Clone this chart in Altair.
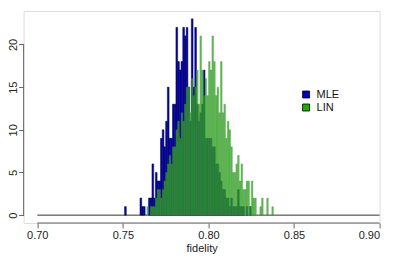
import altair as alt
import pandas as pd
import numpy as np

# Histogram bins: width 0.001, first bin starts at 0.751
bin_width = 0.001
first_bin = 0.751

mle_counts = [1, 0, 0, 0, 0, 0, 0, 0, 0,
              2, 1, 1, 0, 0, 2, 2, 6, 2, 5, 4, 4, 9, 10, 8, 11, 15, 9, 9, 13, 13,
              22, 18, 17, 18, 22, 21, 22, 15, 11, 23, 15, 22, 13, 11, 12, 13, 17, 9, 9, 9,
              9, 8, 8, 6, 6, 5, 4, 3, 3, 2, 2, 1, 2, 1, 1, 1, 3, 1, 1, 1, 0, 1, 0, 1,
              0, 0, 0, 0, 0, 0, 0, 0, 0, 0, 0, 0, 0, 0, 0]

lin_counts = [0, 0, 0, 0, 0, 0, 0, 0, 0, 0, 0, 0, 0,
              1, 0, 1, 1, 1, 2, 3, 3, 2, 3, 4, 5, 6, 7, 6, 8, 8,
              10, 11, 9, 12, 11, 13, 15, 15, 12, 16, 14, 15, 17, 13, 21, 17, 14, 16, 14,
              18, 17, 21, 18, 14, 15, 12, 18, 12, 13, 9, 11, 10, 8, 5, 5, 6, 7, 4, 6,
              3, 3, 4, 4, 1, 4, 2, 2, 0, 0, 1, 2, 0, 0, 2, 0, 0, 1, 0, 0]

series_names = ["MLE", "LIN"]
series_colors = ["#0000c8", "#14b400"]
x_ticks = [0.70, 0.75, 0.80, 0.85, 0.90]
y_ticks = [0, 5, 10, 15, 20]
ref_value = 0.80

rows = []
for name, counts in zip(series_names, [mle_counts, lin_counts]):
    for i, c in enumerate(counts):
        if c > 0:
            s = round(first_bin + i * bin_width, 3)
            rows.append({"start": s, "end": round(s + bin_width, 3), "count": c, "series": name})
df = pd.DataFrame(rows)

W, H = 356, 212
xscale = alt.Scale(domain=[0.692, 0.90], nice=False, zero=False)
yscale = alt.Scale(domain=[-0.92, 23.92], nice=False, zero=False)
color = alt.Color("series:N",
                  scale=alt.Scale(domain=series_names, range=series_colors),
                  legend=alt.Legend(title=None, orient="none", legendX=277, legendY=78,
                                    symbolType="square", symbolSize=49,
                                    symbolStrokeColor="black", symbolStrokeWidth=0.8,
                                    symbolOpacity=1, labelFontSize=11, labelColor="#111",
                                    labelFont="Liberation Sans", labelOffset=5,
                                    rowPadding=1, padding=0))

xaxis = alt.Axis(values=x_ticks, format=".2f", tickSize=5, domain=False, grid=False,
                 tickColor="#666", labelFontSize=11, labelFont="Liberation Sans",
                 labelColor="#222", labelPadding=2, title="fidelity",
                 titleFontSize=11, titleFont="Liberation Sans", titleFontWeight="normal",
                 titleColor="#222", titlePadding=2)
yaxis = alt.Axis(values=y_ticks, tickSize=5, domain=False, grid=False, tickColor="#666",
                 labelAngle=270, labelAlign="center", labelBaseline="alphabetic",
                 labelFontSize=11, labelFont="Liberation Sans", labelColor="#222",
                 labelPadding=2.5, title=None)

base = alt.Chart(df)

mle = base.transform_filter(alt.datum.series == "MLE").mark_rect(
    stroke="#00002a", strokeWidth=0.5).encode(
    x=alt.X("start:Q", scale=xscale, axis=xaxis),
    x2="end:Q",
    y=alt.Y("count:Q", scale=yscale, axis=yaxis),
    y2=alt.datum(0),
    color=color)

lin = base.transform_filter(alt.datum.series == "LIN").mark_rect(
    fillOpacity=0.75, stroke="#777", strokeOpacity=0.6, strokeWidth=0.5).encode(
    x=alt.X("start:Q", scale=xscale),
    x2="end:Q",
    y=alt.Y("count:Q", scale=yscale),
    y2=alt.datum(0),
    color=color)

baseline = alt.Chart(pd.DataFrame({"a": [x_ticks[0]], "b": [x_ticks[-1]]})).mark_rule(
    color="#333", strokeWidth=1).encode(
    x=alt.X("a:Q", scale=xscale), x2="b:Q", y=alt.datum(0))

xline = alt.Chart(pd.DataFrame({"a": [x_ticks[0]], "b": [x_ticks[-1]]})).mark_rule(
    color="#666", strokeWidth=1).encode(
    x=alt.X("a:Q", scale=xscale), x2="b:Q", y=alt.value(H))

yline = alt.Chart(pd.DataFrame({"a": [y_ticks[0]], "b": [y_ticks[-1]]})).mark_rule(
    color="#666", strokeWidth=1).encode(
    y=alt.Y("a:Q", scale=yscale), y2="b:Q", x=alt.value(0))

ref = alt.Chart(pd.DataFrame({"v": [ref_value]})).mark_rule(
    color="#ff2020", strokeWidth=1.2, opacity=0.75).encode(
    x=alt.X("v:Q", scale=xscale), y=alt.value(0), y2=alt.datum(0))

chart = alt.layer(baseline, mle, lin, ref, xline, yline).properties(
    width=W, height=H,
    autosize=alt.AutoSizeParams(type="none"),
    padding={"left": 15.6, "top": 3, "right": 6, "bottom": 32}
).configure_view(stroke=None).configure(background="white")

chart.save("out.html", embed_options={"renderer": "svg", "actions": False})
